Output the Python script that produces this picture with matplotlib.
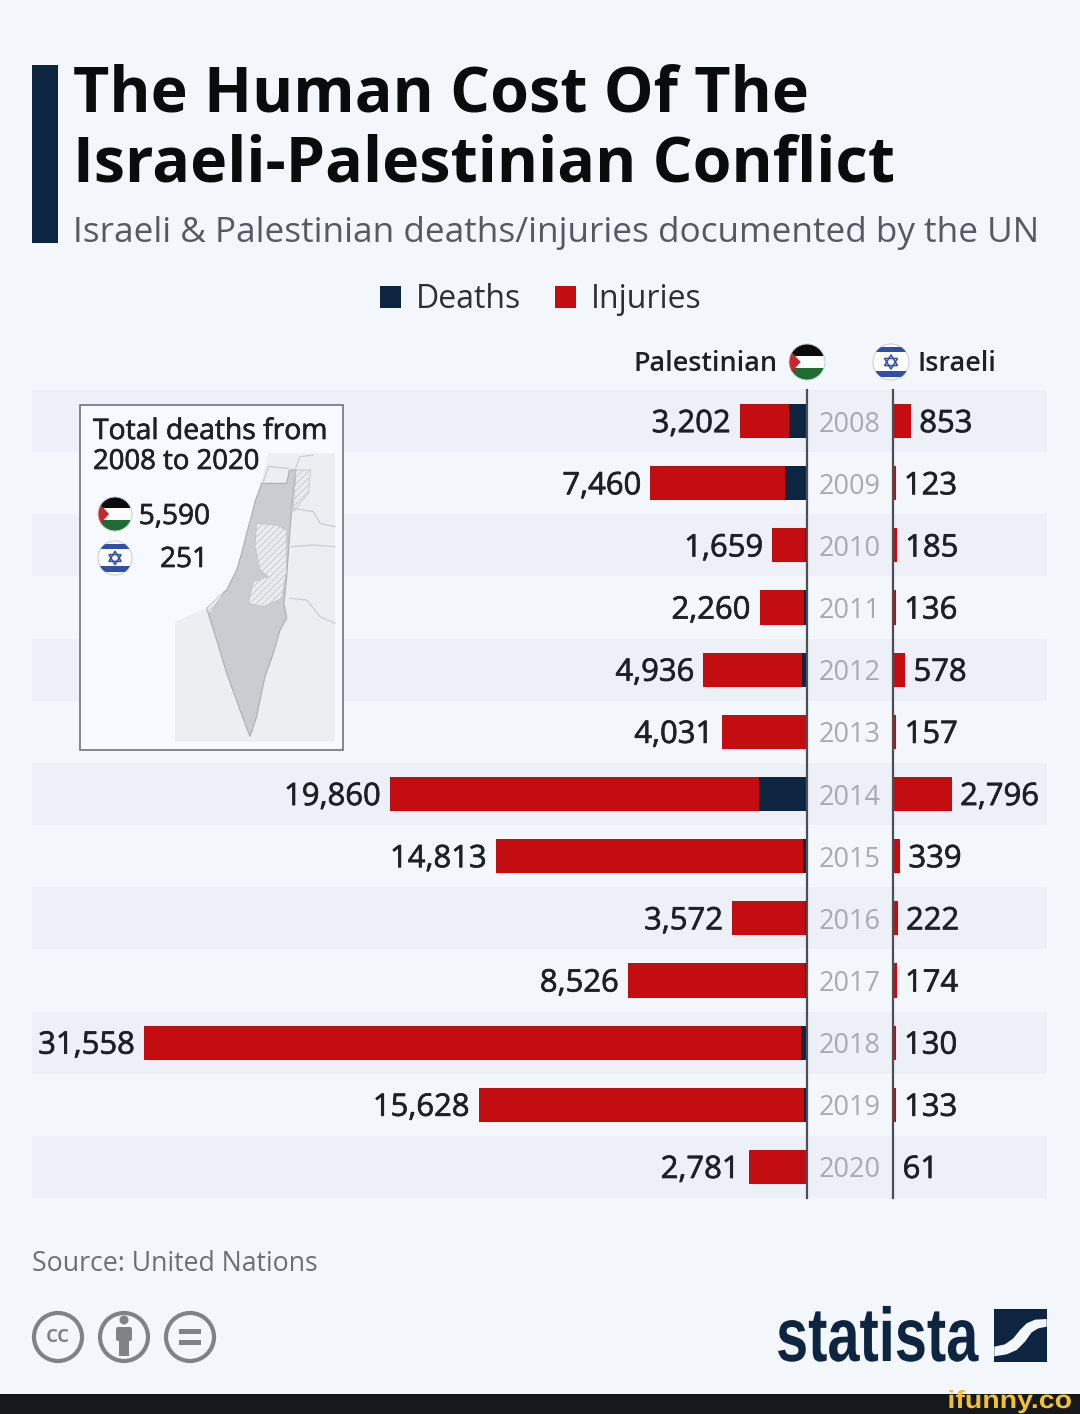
# -*- coding: utf-8 -*-
import numpy as np
import matplotlib
matplotlib.use('Agg')
import matplotlib.pyplot as plt
import matplotlib.patheffects as pe
from matplotlib.patches import Rectangle, Circle, Polygon, FancyBboxPatch
from matplotlib.transforms import Affine2D

#%% data

years = [2008, 2009, 2010, 2011, 2012, 2013, 2014, 2015, 2016, 2017, 2018, 2019, 2020]
pal_total = [3202, 7460, 1659, 2260, 4936, 4031, 19860, 14813, 3572, 8526, 31558, 15628, 2781]
pal_deaths = [860, 1066, 95, 124, 260, 39, 2300, 174, 108, 77, 299, 138, 30]
isr_total = [853, 123, 185, 136, 578, 157, 2796, 339, 222, 174, 130, 133, 61]
total_deaths_pal = 5590
total_deaths_isr = 251

#%% colours and sizes

BG = '#f3f6fb'
STRIPE = '#edf0f6'
NAVY = '#0d2541'
RED = '#c40d11'
INK = '#1d2125'
FONT = 'Open Sans'
W, H = 1080, 1414
PXPT = 0.72  # px to pt at dpi 100
SCALE = 0.02101  # px per person

plt.rcParams['font.family'] = [FONT, 'DejaVu Sans']
plt.rcParams['hatch.linewidth'] = 0.5

fig = plt.figure(figsize=(W / 100, H / 100), dpi=100, facecolor=BG)

HEAVY = [pe.withStroke(linewidth=0.5, foreground=INK)]


class Squeeze(pe.AbstractPathEffect):
    # no condensed font here, so narrow the text in x around x0 (display px)
    def __init__(self, x0, sx):
        super().__init__()
        self.x0 = x0
        self.sx = sx

    def draw_path(self, renderer, gc, tpath, affine, rgbFace=None):
        t = affine + Affine2D().translate(-self.x0, 0).scale(self.sx, 1).translate(self.x0, 0)
        renderer.draw_path(gc, tpath, t, rgbFace)


def px_axes(x0, y0, x1, y1, **kw):
    return fig.add_axes([x0 / W, 1 - y1 / H, (x1 - x0) / W, (y1 - y0) / H], **kw)


TOP, BOT = 390, 1198

#%% stripes

ax_bg = px_axes(32, TOP, 1047, BOT)
ax_bg.set_xlim(0, 1)
ax_bg.set_ylim(len(years) - 0.5, -0.5)
ax_bg.axis('off')
for k in range(0, len(years), 2):
    ax_bg.axhspan(k - 0.5, k + 0.5, color=STRIPE, lw=0)

#%% bars

y = np.arange(len(years))
pal_total = np.array(pal_total)
pal_deaths = np.array(pal_deaths)
pal_injuries = pal_total - pal_deaths
BAR_H = 0.55

ax_pal = px_axes(32, TOP, 807, BOT, facecolor='none')
ax_pal.set_xlim((807 - 32) / SCALE, 0)
ax_pal.set_ylim(len(years) - 0.5, -0.5)
h_deaths = ax_pal.barh(y, pal_deaths, height=BAR_H, color=NAVY, label='Deaths')
h_inj = ax_pal.barh(y, pal_injuries, left=pal_deaths, height=BAR_H, color=RED, label='Injuries')
pal_labels = ax_pal.bar_label(h_inj, labels=[f'{v:,}' for v in pal_total], padding=6.5,
                              fontsize=31 * PXPT, color=INK)

ax_isr = px_axes(893, TOP, 1047, BOT, facecolor='none')
ax_isr.set_xlim(0, (1047 - 893) / SCALE)
ax_isr.set_ylim(len(years) - 0.5, -0.5)
h_isr = ax_isr.barh(y, isr_total, height=BAR_H, color=RED)
isr_labels = ax_isr.bar_label(h_isr, labels=[f'{v:,}' for v in isr_total], padding=6,
                              fontsize=31 * PXPT, color=INK)

for t in list(pal_labels) + list(isr_labels):
    t.xyann = (t.xyann[0], -2.2)
    t.set_path_effects(HEAVY)

# year labels sit between the two axes
ax_pal.yaxis.tick_right()
ax_pal.set_yticks(y)
ax_pal.set_yticklabels(years, ha='center', fontsize=27 * PXPT, color='#a7abb1')
ax_pal.tick_params(axis='y', length=0, pad=43 * PXPT)
ax_pal.set_xticks([])
ax_isr.set_xticks([])
ax_isr.set_yticks([])
for ax in (ax_pal, ax_isr):
    for s in ax.spines.values():
        s.set_visible(False)
ax_pal.spines['right'].set_visible(True)
ax_pal.spines['right'].set_color('#4b4f55')
ax_pal.spines['right'].set_linewidth(1.6)
ax_isr.spines['left'].set_visible(True)
ax_isr.spines['left'].set_color('#4b4f55')
ax_isr.spines['left'].set_linewidth(1.6)

#%% legend

fig.legend([h_deaths, h_inj], ['Deaths', 'Injuries'], ncol=2, frameon=False,
           loc='center', bbox_to_anchor=(540.5 / W, 1 - 300 / H),
           fontsize=32 * PXPT, handlelength=0.68, handleheight=0.68,
           handletextpad=0.45, columnspacing=1.05, labelcolor='#2c3035')

#%% overlay in pixel coordinates, for everything that is not data

deco = px_axes(0, 0, W, H, facecolor='none')
deco.set_xlim(0, W)
deco.set_ylim(H, 0)
deco.axis('off')


def flag_pal(cx, cy, r):
    clip = Circle((cx, cy), r, transform=deco.transData)
    for k, c in enumerate(['#0b0b0b', '#fbfbfb', '#1f6b32']):
        p = Rectangle((cx - r, cy - r + k * 2 * r / 3), 2 * r, 2 * r / 3, color=c, lw=0, zorder=5)
        deco.add_patch(p)
        p.set_clip_path(clip)
    t = Polygon([(cx - r, cy - r * 0.7), (cx - r * 0.35, cy), (cx - r, cy + r * 0.7)],
                color='#c9252c', lw=0, zorder=5)
    deco.add_patch(t)
    t.set_clip_path(clip)
    deco.add_patch(Circle((cx, cy), r, fc='none', ec='#c9cdd2', lw=0.7, zorder=5))


def flag_isr(cx, cy, r):
    clip = Circle((cx, cy), r, transform=deco.transData)
    deco.add_patch(Circle((cx, cy), r, fc='#fbfbfb', ec='#c9cdd2', lw=0.7, zorder=5))
    for dy, hh in ((-0.84 * r, 0.3 * r), (0.48 * r, 0.34 * r)):
        p = Rectangle((cx - r, cy + dy), 2 * r, hh, color='#2f4fa8', lw=0, zorder=5)
        deco.add_patch(p)
        p.set_clip_path(clip)
    a = 0.36 * r
    for sign in (1, -1):
        deco.add_patch(Polygon([(cx - a, cy + sign * a * 0.55), (cx + a, cy + sign * a * 0.55),
                                (cx, cy - sign * a * 1.1)], fc='none', ec='#2f4fa8', lw=1.1, zorder=5))


# title block
deco.add_patch(Rectangle((32, 65), 26, 178, color=NAVY, lw=0))
deco.text(73, 112, 'The Human Cost Of The', fontsize=62.8 * PXPT, fontweight='bold', color='#0a0b0d', va='baseline')
deco.text(73, 181, 'Israeli-Palestinian Conflict', fontsize=62.8 * PXPT, fontweight='bold', color='#0a0b0d', va='baseline')
deco.text(73, 242, 'Israeli & Palestinian deaths/injuries documented by the UN', fontsize=35.1 * PXPT,
          color='#565a60', va='baseline')

# column heads
deco.text(778, 364, 'Palestinian', ha='right', va='center', fontsize=27 * PXPT, fontweight='semibold', color=INK)
deco.text(918, 364, 'Israeli', ha='left', va='center', fontsize=27 * PXPT, fontweight='semibold', color=INK)
flag_pal(807, 362, 18)
flag_isr(891, 362, 18)

# inset box with map
deco.add_patch(Rectangle((80, 405), 263, 345, fc='#f6f9fd', ec='#6f7479', lw=1.2, zorder=0))


def z(pts):
    # map outline was traced in 3x zoom coordinates of the box
    return [(60 + a / 3, 390 + b / 3) for a, b in pts]


land = [(345, 695), (440, 655), (500, 600), (530, 540), (560, 430), (590, 330), (605, 270), (625, 190),
        (825, 190), (825, 1055), (345, 1055)]
israel = [(440, 655), (470, 630), (500, 600), (530, 540), (545, 490), (560, 430), (575, 375), (585, 335),
          (605, 280), (680, 280), (688, 240), (708, 240), (700, 300), (695, 360), (690, 420), (680, 560),
          (672, 640), (680, 685), (660, 720), (640, 790), (615, 860), (600, 930), (590, 980), (570, 1040),
          (540, 960), (500, 850), (470, 750)]
west_bank = [(590, 400), (650, 405), (680, 420), (680, 540), (665, 625), (610, 650), (565, 640), (580, 575),
             (625, 560), (600, 540), (585, 470)]
golan = [(708, 240), (752, 240), (745, 310), (700, 365)]
gaza = [(440, 655), (497, 600), (470, 640), (450, 672)]
deco.add_patch(Polygon(z(land), fc='#eceff2', ec='none', zorder=1))
deco.add_patch(Polygon(z(israel), fc='#c9cdd1', ec='#a9aeb3', lw=0.8, zorder=2))
for part in (west_bank, golan, gaza):
    deco.add_patch(Polygon(z(part), fc='#e9ebee', ec='#bcc0c5', hatch='/////', lw=0.5, zorder=3))
for line in ([(700, 355), (760, 365), (780, 400), (825, 410)], [(695, 470), (760, 465), (825, 470)],
             [(690, 625), (740, 630), (780, 680), (825, 700)], [(610, 275), (625, 230), (685, 235)],
             [(705, 240), (720, 200), (760, 195)]):
    deco.plot(*zip(*z(line)), color='#c9cdd2', lw=0.9, zorder=3)

deco.text(93, 432, 'Total deaths from', fontsize=28.3 * PXPT, color=INK, va='center', zorder=5, path_effects=HEAVY)
deco.text(93, 462, '2008 to 2020', fontsize=27.5 * PXPT, color=INK, va='center', zorder=5, path_effects=HEAVY)
flag_pal(115, 514, 17)
flag_isr(115, 558, 17)
deco.text(210, 517, f'{total_deaths_pal:,}', ha='right', va='center', fontsize=28 * PXPT, color=INK, zorder=5,
          path_effects=HEAVY)
deco.text(208, 560, f'{total_deaths_isr}', ha='right', va='center', fontsize=28 * PXPT, color=INK, zorder=5,
          path_effects=HEAVY)

# footer
deco.text(32, 1264, 'Source: United Nations', fontsize=26.6 * PXPT, color='#6b6f75', va='center')
GREY = '#808386'
for cx in (58, 124, 190):
    deco.add_patch(Circle((cx, 1337), 24, fc='none', ec=GREY, lw=3))
deco.text(58, 1336, 'cc', ha='center', va='center', fontsize=24 * PXPT, fontweight='semibold', color=GREY)
deco.add_patch(Circle((124, 1320), 4.5, color=GREY, lw=0))
deco.add_patch(FancyBboxPatch((116, 1327), 16, 14, boxstyle='round,pad=0,rounding_size=2', color=GREY, lw=0))
deco.add_patch(Rectangle((119, 1338), 10, 18, color=GREY, lw=0))
deco.add_patch(Rectangle((179, 1329), 22, 5, color=GREY, lw=0))
deco.add_patch(Rectangle((179, 1340), 22, 5, color=GREY, lw=0))

deco.text(978, 1361, 'statista', ha='right', va='baseline', fontsize=76 * PXPT, fontweight='bold', color=NAVY,
          family='Liberation Sans', path_effects=[Squeeze(978, 0.76)])
deco.add_patch(Rectangle((994, 1309), 53, 53, color=NAVY, lw=0))


def logo(pts):
    return [(760 + a / 3, 1295 + b / 3) for a, b in pts]


swoosh = [(703, 155), (735, 148), (760, 130), (780, 105), (800, 85), (825, 74), (860, 72),
          (860, 95), (835, 100), (815, 112), (795, 140), (770, 165), (740, 178), (703, 184)]
deco.add_patch(Polygon(logo(swoosh), color=BG, lw=0))

# dark strip from the repost site
deco.add_patch(Rectangle((0, 1394), W, 20, color='#17181c', lw=0, zorder=6))
deco.text(1072, 1408, 'ifunny.co', ha='right', va='baseline', fontsize=25 * PXPT, fontweight='bold', color='#f3c22e',
          family='Liberation Sans', zorder=7, path_effects=[Squeeze(1072, 1.14)])

fig.savefig('out.png', dpi=100, facecolor=BG)
